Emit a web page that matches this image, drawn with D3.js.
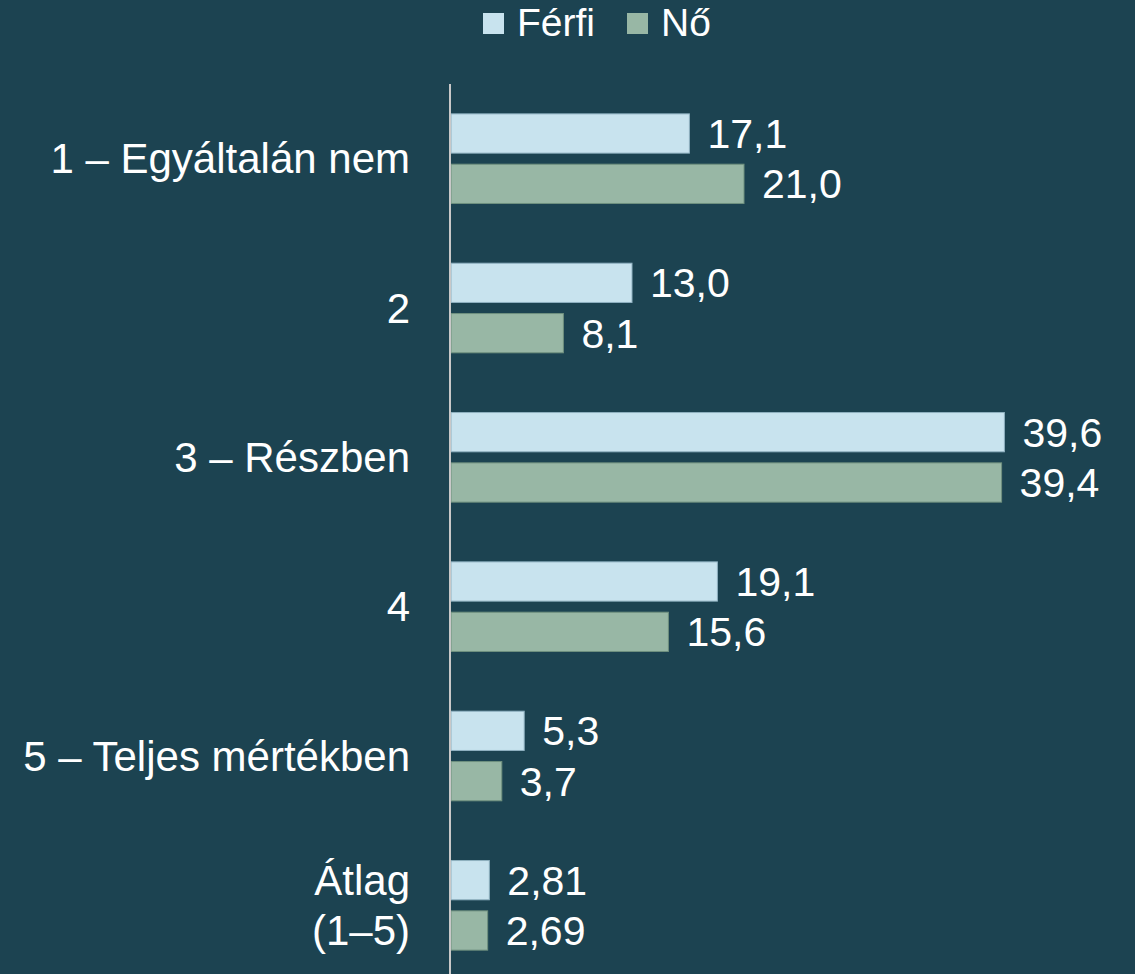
<html lang="hu">
<head>
<meta charset="utf-8">
<title>Férfi / Nő</title>
<script src="https://cdnjs.cloudflare.com/ajax/libs/d3/7.8.5/d3.min.js"></script>
<style>
  body { margin: 0; background: #1c4351; }
  text { font-family: "Liberation Sans", Arial, sans-serif; fill: #ffffff; }
</style>
</head>
<body></body>
<script type="text/javascript">

//****************************************************************************************************************************//
// Data

var categories = ["1 – Egyáltalán nem", "2", "3 – Részben", "4", "5 – Teljes mértékben", "Átlag\n(1–5)"];
var series = ["Férfi", "Nő"];
var ferfi = [17.1, 13.0, 39.6, 19.1, 5.3, 2.81];
var no = [21.0, 8.1, 39.4, 15.6, 3.7, 2.69];
var valueLabels = {
    "Férfi": ["17,1", "13,0", "39,6", "19,1", "5,3", "2,81"],
    "Nő": ["21,0", "8,1", "39,4", "15,6", "3,7", "2,69"]
};

var colors = { "Férfi": "#c8e3ee", "Nő": "#98b7a5" };
var strokes = { "Férfi": "#8fb1c0", "Nő": "#6f907f" };

//****************************************************************************************************************************//
// Canvas

var width = 1135,
    height = 974;

var canvas = d3.select("body")
            .append("svg")
            .attr("width", width)
            .attr("height", height);

canvas.append("rect")
        .attr("width", width)
        .attr("height", height)
        .attr("fill", "#1c4351");

var fontSize = 41,
    catFontSize = 42,
    legendFontSize = 39;

var x = d3.scaleLinear().domain([0, 45]).range([450, 450 + 45 * 14]);

var y = d3.scaleBand()
        .domain(categories)
        .range([84, 980])
        .paddingInner(0.4)
        .paddingOuter(0.2);

var ySub = d3.scaleBand()
        .domain(series)
        .range([0, y.bandwidth()])
        .paddingInner(0.22);

var rows = categories.map(function(c, i){
    return { cat: c, i: i, values: [
        { key: "Férfi", value: ferfi[i], label: valueLabels["Férfi"][i] },
        { key: "Nő", value: no[i], label: valueLabels["Nő"][i] }
    ]};
});

//****************************************************************************************************************************//
// Bars

var groups = canvas.selectAll(".group")
        .data(rows)
        .enter()
        .append("g")
        .attr("class", "group")
        .attr("transform", function(d){ return "translate(0," + y(d.cat) + ")"; });

groups.selectAll("rect")
        .data(function(d){ return d.values; })
        .enter()
        .append("rect")
        .attr("x", x(0) + 1)
        .attr("y", function(d){ return ySub(d.key); })
        .attr("width", function(d){ return x(d.value) - x(0) - 1; })
        .attr("height", ySub.bandwidth())
        .attr("fill", function(d){ return colors[d.key]; })
        .attr("stroke", function(d){ return strokes[d.key]; })
        .attr("stroke-width", 1);

groups.selectAll(".val")
        .data(function(d){ return d.values; })
        .enter()
        .append("text")
        .attr("class", "val")
        .attr("x", function(d){ return x(d.value) + 18; })
        .attr("y", function(d){ return ySub(d.key) + ySub.bandwidth() / 2; })
        .attr("dy", "0.35em")
        .attr("font-size", fontSize)
        .text(function(d){ return d.label; });

//****************************************************************************************************************************//
// Category labels

groups.append("text")
        .attr("class", "cat")
        .attr("text-anchor", "end")
        .attr("font-size", catFontSize)
        .each(function(d){
            var lines = d.cat.split("\n");
            var t = d3.select(this);
            var mid = y.bandwidth() / 2;
            var lh = 50;
            lines.forEach(function(l, k){
                t.append("tspan")
                    .attr("x", 410)
                    .attr("y", mid + (k - (lines.length - 1) / 2) * lh)
                    .attr("dy", "0.35em")
                    .text(l);
            });
        });

//****************************************************************************************************************************//
// Axis line

canvas.append("line")
        .attr("x1", x(0))
        .attr("x2", x(0))
        .attr("y1", 84)
        .attr("y2", height)
        .attr("stroke", "#c8c8c8")
        .attr("stroke-width", 2);

//****************************************************************************************************************************//
// Legend

var legendPos = { "Férfi": 483, "Nő": 627 };

var legend = canvas.selectAll(".legend")
        .data(series)
        .enter()
        .append("g")
        .attr("class", "legend")
        .attr("transform", function(d){ return "translate(" + legendPos[d] + ",0)"; });

legend.append("rect")
        .attr("x", 0)
        .attr("y", 13)
        .attr("width", 21)
        .attr("height", 21)
        .attr("fill", function(d){ return colors[d]; });

legend.append("text")
        .attr("x", 34)
        .attr("y", 36)
        .attr("font-size", legendFontSize)
        .text(function(d){ return d; });

</script>
</html>
